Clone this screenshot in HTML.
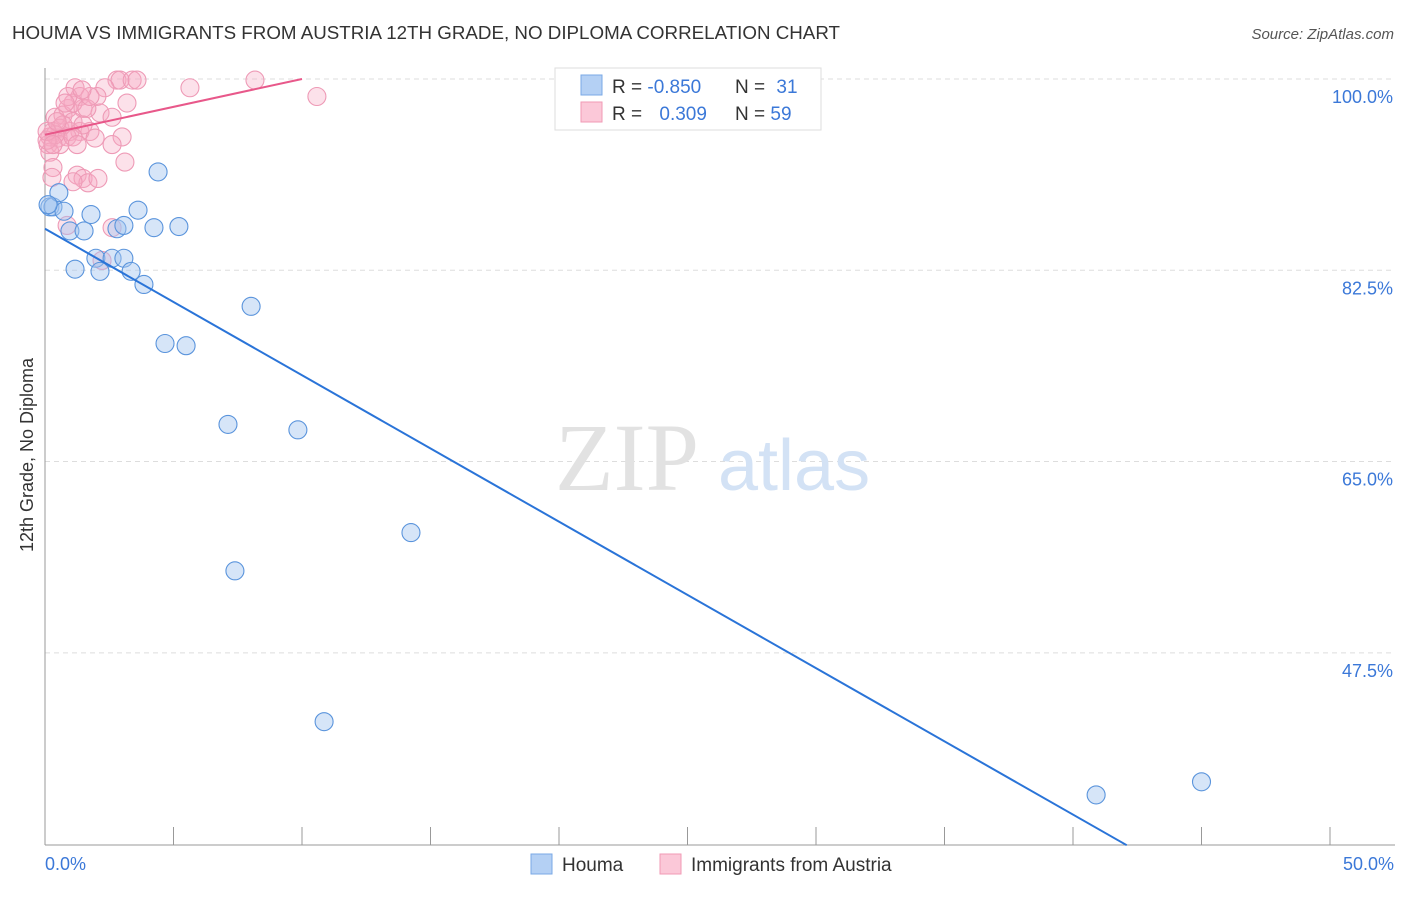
<!DOCTYPE html>
<html><head><meta charset="utf-8"><style>
body{margin:0;background:#fff;font-family:"Liberation Sans",sans-serif;}
</style></head><body>
<svg id="chart" width="1406" height="892" viewBox="0 0 1406 892" xmlns="http://www.w3.org/2000/svg">
<text x="12" y="39" font-size="18" fill="#333" textLength="828" lengthAdjust="spacingAndGlyphs">HOUMA VS IMMIGRANTS FROM AUSTRIA 12TH GRADE, NO DIPLOMA CORRELATION CHART</text>
<text x="1394" y="39" font-size="15" fill="#555" font-style="italic" text-anchor="end">Source: ZipAtlas.com</text>
<g id="grid"></g>
<g>
<text x="555" y="490" font-size="96" fill="#e2e2e2" font-family="Liberation Serif,serif">ZIP</text>
<text x="718" y="490" font-size="72" fill="#d3e2f5">atlas</text>
</g>
<line x1="45" y1="68" x2="45" y2="845" stroke="#999" stroke-width="1"/>
<line x1="45" y1="845" x2="1395" y2="845" stroke="#999" stroke-width="1"/>
<g id="ticks"></g>
<g id="pts"></g>
<g id="lines"></g>
<text x="33" y="455" font-size="18" fill="#333" text-anchor="middle" transform="rotate(-90 33 455)">12th Grade, No Diploma</text>
<text x="45" y="870" font-size="18" fill="#3b78d8">0.0%</text>
<text x="1394" y="870" font-size="18" fill="#3b78d8" text-anchor="end">50.0%</text>
<g>
<rect x="555" y="68" width="266" height="62" fill="#fff" stroke="#ddd"/>
<rect x="581" y="75" width="21" height="20" fill="#b4d0f4" stroke="#7aa8e6"/>
<rect x="581" y="102" width="21" height="20" fill="#fbc8d8" stroke="#f09ab5"/>
<text x="612" y="93" font-size="19" fill="#333">R = <tspan fill="#3b78d8">-0.850</tspan></text>
<text x="735" y="93" font-size="19" fill="#333">N = <tspan fill="#3b78d8" dx="6">31</tspan></text>
<text x="612" y="120" font-size="19" fill="#333">R = <tspan fill="#3b78d8" dx="12">0.309</tspan></text>
<text x="735" y="120" font-size="19" fill="#333">N = <tspan fill="#3b78d8">59</tspan></text>
</g>
<g>
<rect x="531" y="854" width="21" height="20" fill="#b4d0f4" stroke="#7aa8e6"/>
<text x="562" y="871" font-size="19" fill="#333">Houma</text>
<rect x="660" y="854" width="21" height="20" fill="#fbc8d8" stroke="#f09ab5"/>
<text x="691" y="871" font-size="19" fill="#333">Immigrants from Austria</text>
</g>
</svg>
<script>
const yTicks=[100,82.5,65,47.5];
const yTickLabels=["100.0%","82.5%","65.0%","47.5%"];
const xTicks=[0,5,10,15,20,25,30,35,40,45,50];
const houmaX=[0.19,0.31,0.74,0.54,0.97,1.52,1.79,1.17,1.98,2.14,2.61,2.8,3.07,3.07,3.35,3.62,3.85,4.24,4.4,4.67,5.21,5.49,8.02,7.12,9.84,7.39,14.24,10.86,40.9,45.0,0.12];
const houmaY=[88.3,88.3,87.9,89.6,86.1,86.1,87.6,82.6,83.6,82.4,83.6,86.3,86.6,83.6,82.4,88.0,81.2,86.4,91.5,75.8,86.5,75.6,79.2,68.4,67.9,55.0,58.5,41.2,34.5,35.7,88.5];
const austX=[2.8,2.92,3.39,3.58,8.17,5.64,10.58,1.17,2.33,1.36,2.02,3.19,0.89,1.48,2.14,2.61,0.39,0.70,3.0,2.61,3.11,1.75,1.36,0.97,0.58,0.31,0.19,0.51,0.86,0.12,0.58,0.19,0.31,0.27,1.25,1.48,1.67,2.06,1.09,0.86,2.61,2.22,1.09,1.63,1.09,0.70,1.48,0.39,1.09,0.08,0.08,1.75,0.89,0.31,1.25,1.95,0.47,1.44,0.78];
const austY=[99.9,99.9,99.9,99.9,99.9,99.2,98.4,99.2,99.2,98.4,98.4,97.8,97.3,97.3,96.9,96.5,96.5,96.7,94.7,94.0,92.4,95.2,95.2,95.2,95.5,95.2,94.7,94.6,94.7,94.0,94.0,93.3,91.9,91.0,91.2,90.9,90.5,90.9,90.6,86.6,86.4,83.4,97.8,97.3,96.1,95.8,95.8,94.9,94.7,94.4,95.2,98.4,98.4,94.0,94.0,94.6,96.1,99.0,97.8];
const houmaFit=[86.3,-1.34];
const austFit=[94.9,0.51];
const NS='http://www.w3.org/2000/svg';
const xs=v=>45+v*25.7;
const ys=v=>79+(100-v)*10.93;
function mk(t,a,p){const e=document.createElementNS(NS,t);for(const k in a)e.setAttribute(k,a[k]);document.getElementById(p).appendChild(e);return e;}
yTicks.forEach((t,i)=>{
 const l=mk('line',{x1:45,x2:1395,y1:ys(t),y2:ys(t),stroke:'#ddd','stroke-dasharray':'5,4'},'grid');
 
 
 const tx=mk('text',{x:1393,y:ys(t)+24,'font-size':18,fill:'#3b78d8','text-anchor':'end'},'grid');
 tx.textContent=yTickLabels[i];
 
 
});
xTicks.forEach(t=>{
 const l=mk('line',{x1:xs(t),x2:xs(t),y1:827,y2:845,stroke:'#999'},'ticks');
 
 
});
austX.forEach((v,i)=>{
 const c=mk('circle',{cx:xs(v),cy:ys(austY[i]),r:9,fill:'rgba(246,170,196,0.35)',stroke:'#ee9ab6','stroke-width':1.1},'pts');
 
 
});
houmaX.forEach((v,i)=>{
 const c=mk('circle',{cx:xs(v),cy:ys(houmaY[i]),r:9,fill:'rgba(165,198,240,0.45)',stroke:'#5a94dc','stroke-width':1.1},'pts');
 
 
});
const xEndB=(29.9-houmaFit[0])/houmaFit[1];
const bl=mk('line',{x1:xs(0),y1:ys(houmaFit[0]),x2:xs(xEndB),y2:ys(houmaFit[0]+houmaFit[1]*xEndB),stroke:'#2a74d8','stroke-width':2},'lines');


const xEndP=(100-austFit[0])/austFit[1];
const pl=mk('line',{x1:xs(0),y1:ys(austFit[0]),x2:xs(xEndP),y2:ys(100),stroke:'#e8588a','stroke-width':2},'lines');


</script>
</body></html>
